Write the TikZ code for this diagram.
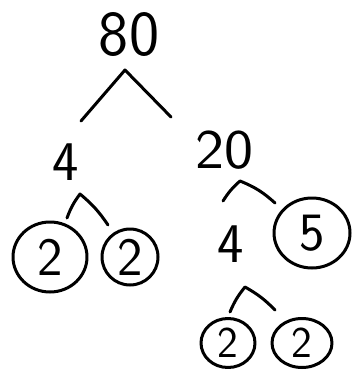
\documentclass[tikz,border=0pt]{standalone}
\usetikzlibrary{shapes.geometric}
\begin{document}
\begin{tikzpicture}[x=1pt,y=-1pt, line width=3pt, line cap=round, line join=round,
  numbig/.style={inner sep=0pt, font=\sffamily\fontsize{64}{64}\selectfont},
  nummid/.style={inner sep=0pt, font=\sffamily\fontsize{56}{56}\selectfont},
  circd/.style={ellipse, draw, line width=3pt, inner sep=0pt, font=\sffamily\fontsize{54}{54}\selectfont},
  circs/.style={circd, font=\sffamily\fontsize{44}{44}\selectfont},
  caret/.style={line width=3pt}]
\useasboundingbox (0,0) rectangle (352,371);
% numbers
\node[numbig] (n80) at (129,35) {80};
\node[nummid] (n4a) at (66,162) {4};
\node[nummid, xscale=1.1] (n20) at (224,150) {20};
\node[circd, minimum width=74pt, minimum height=70pt] (c2a) at (50,257) {2};
\node[circd, minimum width=56pt, minimum height=56pt] (c2b) at (130,257) {2};
\node[nummid] (n4b) at (231,244) {4};
\node[circd, minimum width=76pt, minimum height=70pt] (c5) at (312,233) {5};
\node[circs, minimum width=54pt, minimum height=49pt] (c2c) at (228,343) {2};
\node[circs, minimum width=60pt, minimum height=49pt] (c2d) at (302,343) {2};
% carets
\coordinate (k1) at (125,70);  \coordinate (k1l) at (81,121);  \coordinate (k1r) at (171,117);
\coordinate (k2) at (80,194);  \coordinate (k2l) at (67,218);  \coordinate (k2r) at (108,225);
\coordinate (k3) at (240,181); \coordinate (k3l) at (223,201); \coordinate (k3r) at (275,203);
\coordinate (k4) at (245,287); \coordinate (k4l) at (230,312); \coordinate (k4r) at (275,310);
\draw[caret] (k1l) -- (k1) -- (k1r);
\draw[caret] (k2l) to[bend left=8] (k2) to[bend left=8] (k2r);
\draw[caret] (k3l) to[bend left=8] (k3) to[bend left=10] (k3r);
\draw[caret] (k4l) to[bend left=8] (k4) to[bend left=8] (k4r);
\end{tikzpicture}
\end{document}
